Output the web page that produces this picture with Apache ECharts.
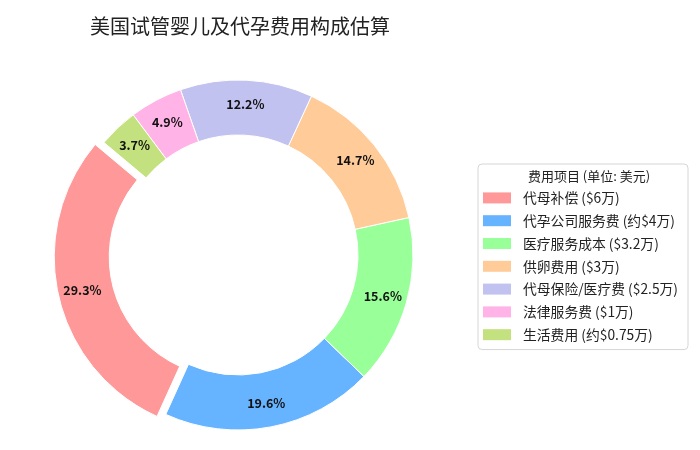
<!DOCTYPE html>
<html>
<head>
<meta charset="utf-8">
<script src="https://cdn.jsdelivr.net/npm/echarts@6/dist/echarts.min.js"></script>
<style>
html,body{margin:0;padding:0;background:#fff;}
#chart{width:700px;height:450px;}
</style>
</head>
<body>
<div id="chart"></div>
<script>
// data
var categories=["代母补偿 ($6万)","代孕公司服务费 (约$4万)","医疗服务成本 ($3.2万)","供卵费用 ($3万)","代母保险/医疗费 ($2.5万)","法律服务费 ($1万)","生活费用 (约$0.75万)"];
var values=[6,4,3.2,3,2.5,1,0.75];
var explodeIndex=0;
var palette=["#ff9999","#66b3ff","#99ff99","#ffcc99","#c2c2f0","#ffb3e6","#c4e17f"];

var font="Noto Sans CJK SC";
var pieData=[];
for(var i=0;i<values.length;i++){
    pieData.push({name:categories[i],value:values[i],selected:i==explodeIndex});
}

var option={
    animation:false,
    color:palette,
    textStyle:{fontFamily:font},
    title:[{
        text:"美国试管婴儿及代孕费用构成估算",
        left:235,top:11,textAlign:"center",
        textStyle:{fontFamily:font,fontSize:20,fontWeight:"normal",color:"#222"}
    },{
        text:"费用项目 (单位: 美元)",
        left:584,top:165,textAlign:"center",
        textStyle:{fontFamily:font,fontSize:13,fontWeight:"normal",color:"#222"}
    }],
    legend:{
        orient:"vertical",
        left:478,top:164,
        padding:[27,10,8,5],
        itemWidth:28,itemHeight:11,itemGap:9,
        itemStyle:{borderWidth:0},
        icon:"rect",
        selectedMode:false,
        borderColor:"#d6d6d6",borderWidth:1,borderRadius:4,
        backgroundColor:"#fff",
        textStyle:{fontFamily:font,fontSize:13.8,color:"#222",padding:[0,0,0,7]},
        data:categories
    },
    series:[{
        type:"pie",
        center:[238,255],
        radius:[120,175],
        startAngle:140,
        clockwise:false,
        selectedMode:"single",
        selectedOffset:9,
        avoidLabelOverlap:false,
        percentPrecision:1,
        itemStyle:{borderColor:"#fff",borderWidth:1},
        label:{
            show:true,position:"inside",
            formatter:"{d}%",
            fontFamily:font,fontSize:12.5,fontWeight:"bold",color:"#111"
        },
        labelLine:{show:false},
        emphasis:{disabled:true},
        data:pieData
    }]
};

var chart=echarts.init(document.getElementById("chart"));
chart.setOption(option);
</script>
</body>
</html>
